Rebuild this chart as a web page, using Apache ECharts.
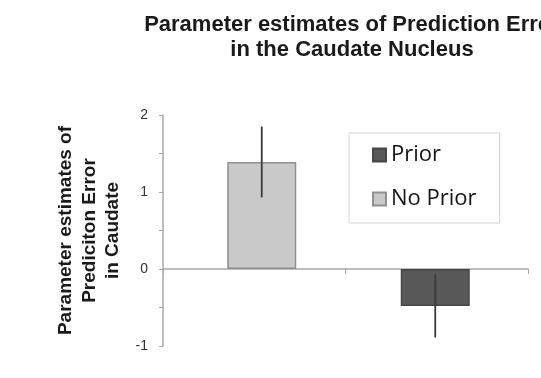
<!DOCTYPE html>
<html>
<head>
<meta charset="utf-8">
<script src="https://cdn.jsdelivr.net/npm/echarts@6/dist/echarts.min.js"></script>
<style>
  html, body { margin: 0; padding: 0; background: #ffffff; }
  #chart { width: 541px; height: 378px; }
</style>
</head>
<body>
<div id="chart"></div>
<script>
// Conditions and their mean parameter estimates with error half-widths
const categories = ['No Prior', 'Prior'];
const means = [1.39, -0.48];
const errors = [0.46, 0.41];

// Legend order and bar colours per condition
const legendOrder = ['Prior', 'No Prior'];
const fillColors = { 'Prior': '#585858', 'No Prior': '#c9c9c9' };
const edgeColors = { 'Prior': '#474747', 'No Prior': '#8f8f8f' };

// Value axis range and labelled ticks
const yMin = -1;
const yMax = 2;
const yStep = 0.5;
const yLabelled = [-1, 0, 1, 2];

const chart = echarts.init(document.getElementById('chart'), null, { renderer: 'canvas' });

const barSeries = legendOrder.map(name => ({
  name: name,
  type: 'bar',
  xAxisIndex: 1,
  yAxisIndex: 1,
  barWidth: 69,
  barGap: '-100%',
  data: categories.map((c, i) => (c === name ? means[i] : null)),
  itemStyle: {
    color: fillColors[name],
    borderColor: edgeColors[name],
    borderWidth: 1.5
  },
  emphasis: { disabled: true }
}));

// Vertical error bars without caps
const errorSeries = {
  type: 'custom',
  xAxisIndex: 1,
  yAxisIndex: 1,
  z: 5,
  data: categories.map((c, i) => [i, means[i] + errors[i], means[i] - errors[i]]),
  renderItem: function (params, api) {
    const hi = api.coord([api.value(0), api.value(1)]);
    const lo = api.coord([api.value(0), api.value(2)]);
    return {
      type: 'line',
      shape: { x1: hi[0], y1: hi[1], x2: lo[0], y2: lo[1] },
      style: { stroke: '#3a3a3a', lineWidth: 1.8 }
    };
  }
};

chart.setOption({
  animation: false,
  backgroundColor: '#ffffff',
  title: {
    text: 'Parameter estimates of Prediction Error\nin the Caudate Nucleus',
    left: 347,
    top: 7,
    textAlign: 'center',
    textStyle: {
      fontFamily: 'Liberation Sans, Arial, sans-serif',
      fontWeight: 'bold',
      fontSize: 22,
      lineHeight: 25,
      color: '#1a1a1a'
    }
  },
  legend: {
    data: legendOrder,
    orient: 'vertical',
    left: 349,
    top: 133,
    padding: [10, 23, 12, 23],
    itemGap: 20,
    itemWidth: 13,
    itemHeight: 13,
    icon: 'rect',
    backgroundColor: '#ffffff',
    borderColor: '#d4d4d4',
    borderWidth: 1,
    selectedMode: false,
    textStyle: {
      fontFamily: 'Open Sans, Liberation Sans, sans-serif',
      fontSize: 22,
      lineHeight: 24,
      color: '#151515'
    }
  },
  grid: [
    { left: 163, right: 13, top: 115, bottom: 32 },
    { left: 175, right: 19, top: 115, bottom: 32 }
  ],
  xAxis: [
    {
      gridIndex: 0,
      type: 'category',
      data: categories,
      boundaryGap: true,
      axisLine: { onZero: true, lineStyle: { color: '#a8a8a8', width: 1.5 } },
      axisTick: { show: true, length: 5, lineStyle: { color: '#a8a8a8' } },
      axisLabel: { show: false },
      splitLine: { show: false }
    },
    {
      gridIndex: 1,
      type: 'category',
      data: categories,
      show: false
    }
  ],
  yAxis: [
    {
      gridIndex: 0,
      type: 'value',
      min: yMin,
      max: yMax,
      interval: yStep,
      name: 'Parameter estimates of\nPrediciton Error\nin Caudate',
      nameLocation: 'middle',
      nameRotate: 90,
      nameGap: 35,
      nameTextStyle: {
        fontFamily: 'Liberation Sans, Arial, sans-serif',
        fontWeight: 'bold',
        fontSize: 19,
        lineHeight: 23.5,
        color: '#1a1a1a',
        align: 'center'
      },
      axisLine: { show: true, lineStyle: { color: '#a8a8a8', width: 1.5 } },
      axisTick: { show: true, inside: false, length: 4, lineStyle: { color: '#a8a8a8' } },
      axisLabel: {
        margin: 15,
        fontFamily: 'Liberation Sans, Arial, sans-serif',
        fontSize: 14,
        color: '#333333',
        formatter: v => (yLabelled.indexOf(v) >= 0 ? String(v) : '')
      },
      splitLine: { show: false }
    },
    {
      gridIndex: 1,
      type: 'value',
      min: yMin,
      max: yMax,
      interval: yStep,
      show: false,
      splitLine: { show: false }
    }
  ],
  series: barSeries.concat([errorSeries])
});
</script>
</body>
</html>
